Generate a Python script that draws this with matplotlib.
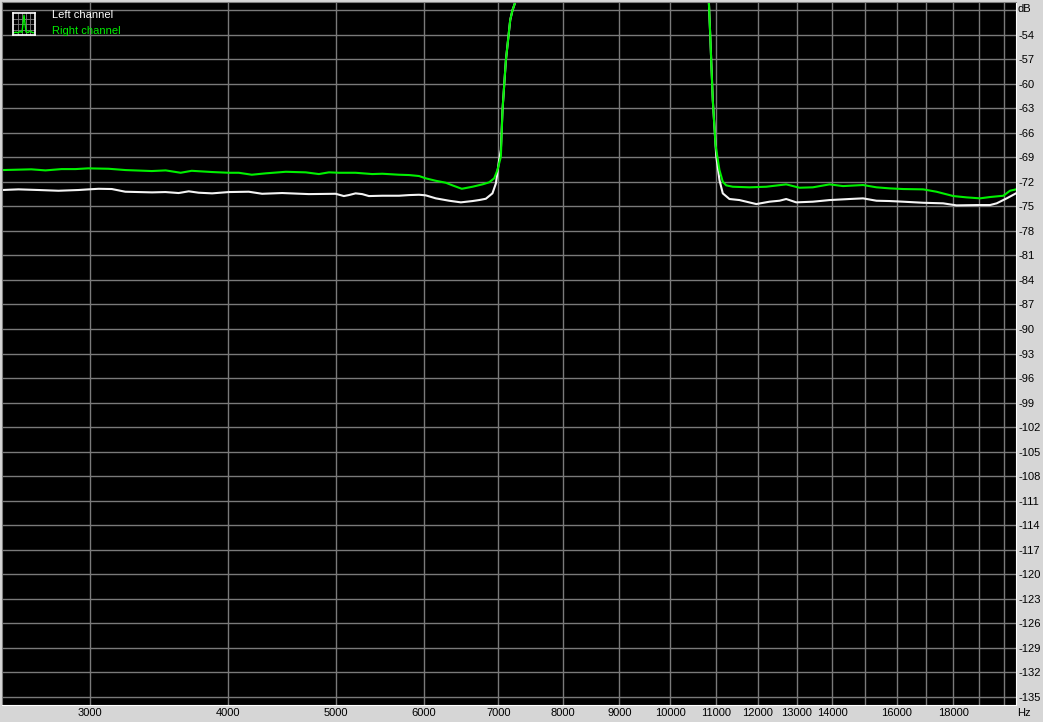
import numpy as np
import matplotlib
matplotlib.use("Agg")
import matplotlib.pyplot as plt
from matplotlib.ticker import NullLocator

plt.rcParams['font.family'] = ['Liberation Sans', 'DejaVu Sans']

# spectrum (Hz, dB)
left_freq = [2500, 2587, 2697, 2811, 2930, 2992, 3055, 3140, 3229, 3319, 3413, 3509,
             3607, 3683, 3760, 3866, 4002, 4172, 4289, 4471, 4726, 4995, 5082, 5135,
             5207, 5279, 5353, 5504, 5698, 5818, 5940, 6022, 6150, 6322, 6478, 6636,
             6728, 6823, 6917, 6967, 7014, 7039, 7063, 7113, 7177, 7211, 7262, 7330,
             10780, 10837, 10867, 10927, 10990, 11007, 11079, 11156, 11311, 11550,
             11960, 12290, 12550, 12725, 12993, 13450, 13924, 14513, 14924, 15345,
             15773, 16221, 16909, 17623, 18119, 18888, 19422, 19694, 20109, 20498]
left_db = [-73.0, -72.92, -73.0, -73.09, -73.0, -72.92, -72.85, -72.88, -73.21, -73.25,
           -73.29, -73.25, -73.37, -73.16, -73.33, -73.41, -73.25, -73.21, -73.46, -73.37,
           -73.5, -73.46, -73.74, -73.62, -73.41, -73.5, -73.74, -73.7, -73.7, -73.62,
           -73.58, -73.65, -74.02, -74.31, -74.51, -74.35, -74.23, -74.07, -73.41, -72.19,
           -69.3, -68.1, -63.2, -57.1, -52.2, -51.0, -49.8, -45.0,
           -45.0, -49.8, -53.8, -62.0, -67.5, -68.9, -71.78, -73.41, -74.1, -74.23,
           -74.72, -74.43, -74.31, -74.1, -74.51, -74.43, -74.23, -74.1, -74.02, -74.31,
           -74.35, -74.43, -74.56, -74.63, -74.88, -74.84, -74.84, -74.63, -74.02, -73.41]

right_freq = [2500, 2657, 2736, 2829, 2912, 2989, 3119, 3231, 3411, 3511, 3622, 3706,
              3864, 4002, 4086, 4198, 4322, 4505, 4696, 4825, 4926, 5030, 5207, 5390,
              5504, 5698, 5818, 5940, 6022, 6150, 6279, 6366, 6491, 6636, 6775, 6870,
              6942, 6989, 7039, 7063, 7113, 7177, 7211, 7262, 7330,
              10780, 10837, 10867, 10927, 10990, 11079, 11156, 11235, 11390, 11791,
              12208, 12725, 13081, 13450, 13924, 14316, 14924, 15345, 15773, 16221,
              16909, 17383, 18000, 18500, 19023, 19422, 19968, 20245, 20498]
right_db = [-70.56, -70.47, -70.6, -70.44, -70.44, -70.35, -70.4, -70.56, -70.68, -70.6,
            -70.89, -70.65, -70.8, -70.89, -70.89, -71.13, -70.96, -70.77, -70.84, -71.05,
            -70.84, -70.89, -70.89, -71.05, -71.01, -71.13, -71.17, -71.29, -71.57, -71.87,
            -72.11, -72.43, -72.85, -72.6, -72.31, -72.06, -71.57, -70.56, -68.93, -63.2,
            -57.1, -52.2, -51.0, -49.8, -45.0,
            -45.0, -49.8, -53.8, -62.0, -67.5, -70.56, -71.99, -72.43, -72.6, -72.67,
            -72.6, -72.31, -72.72, -72.67, -72.31, -72.52, -72.39, -72.67, -72.8, -72.88,
            -72.92, -73.21, -73.74, -73.9, -74.02, -73.86, -73.7, -73.09, -72.92]

db_ticks = list(range(-54, -136, -3))
freq_grid = list(range(3000, 20001, 1000))
freq_labels = [3000, 4000, 5000, 6000, 7000, 8000, 9000, 10000, 11000, 12000,
               13000, 14000, 16000, 18000]

icon_x = [0, 1, 2, 3, 4, 5, 6, 7, 8, 9, 10]
icon_y = [1, 1.3, 1, 1.6, 1.2, 9, 1.4, 1.1, 1.8, 1.2, 1]

green = '#00f000'

fig = plt.figure(figsize=(10.43, 7.22), dpi=100, facecolor='#d6d6d6')
ax = fig.add_axes([2 / 1043, 1 - 705 / 722, 1014 / 1043, 703 / 722])
ax.set_facecolor('black')

ax.plot(left_freq, left_db, color='#f4f4f4', lw=1.5)
ax.plot(right_freq, right_db, color=green, lw=1.5)

ax.set_xscale('log')
ax.set_xlim(2500, 20500)
ax.set_ylim(-136, -50)

ax.xaxis.set_minor_locator(NullLocator())
ax.set_xticks(freq_grid)
ax.set_xticklabels([str(f) if f in freq_labels else '' for f in freq_grid])
ax.yaxis.tick_right()
ax.set_yticks([-51] + db_ticks)
ax.set_yticklabels([''] + [str(d) for d in db_ticks])
ax.tick_params(length=0, labelsize=8, colors='black', pad=2)
ax.tick_params(axis='y', pad=1.5)
ax.grid(True, color='#7a7a7a', lw=1)
ax.set_axisbelow(True)

for side in ['top', 'left']:
    ax.spines[side].set_color('#808080')
for side in ['bottom', 'right']:
    ax.spines[side].set_color('white')

ax.text(1.0015, 1 - 7 / 703, 'dB', transform=ax.transAxes, fontsize=8,
        ha='left', va='center')
ax.text(1.0015, -0.012, 'Hz', transform=ax.transAxes, fontsize=8,
        ha='left', va='center')

# legend
ax.text(50 / 1014, 1 - 13 / 703, 'Left channel', transform=ax.transAxes,
        color='white', fontsize=8, va='center')
ax.text(50 / 1014, 1 - 29 / 703, 'Right channel', transform=ax.transAxes,
        color=green, fontsize=8, va='center')

icon = fig.add_axes([13 / 1043, 1 - 35 / 722, 22 / 1043, 22 / 722])
icon.set_facecolor('black')
icon.plot(icon_x, icon_y, color=green, lw=1)
icon.set_xlim(-0.5, 10.5)
icon.set_ylim(0, 10)
icon.set_xticks([2, 4, 6, 8])
icon.set_yticks([2.5, 5, 7.5])
icon.grid(True, color='#808080', lw=0.6)
icon.tick_params(length=0, labelbottom=False, labelleft=False)
for s in icon.spines.values():
    s.set_color('white')
    s.set_linewidth(1.2)

fig.savefig('out.png', dpi=100, facecolor=fig.get_facecolor())
